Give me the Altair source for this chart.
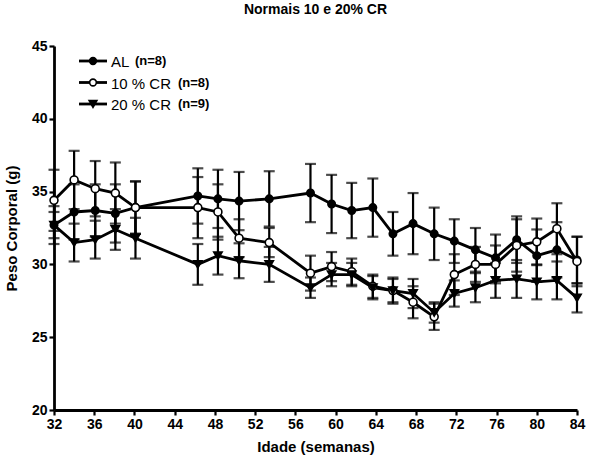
import altair as alt
import pandas as pd

# Age in weeks at each weighing
weeks = [32, 34, 36.1, 38.1, 40.1, 46.3, 48.3, 50.4, 53.4, 57.5, 59.6, 61.6,
         63.7, 65.7, 67.7, 69.8, 71.8, 73.9, 75.9, 78.0, 80.0, 82.0, 84.0]

series_names = ["AL", "10 % CR", "20 % CR"]
series_tags = ["(n=8)", "(n=8)", "(n=9)"]

# Mean body weight (g) and SEM for each group
al_mean = [32.7, 33.6, 33.7, 33.5, 33.9, 34.7, 34.5, 34.35, 34.5, 34.9, 34.15, 33.7,
           33.9, 32.1, 32.8, 32.1, 31.6, 31.0, 30.45, 31.7, 30.6, 31.0, 30.3]
al_sem = [1.3, 1.9, 1.8, 2.0, 1.8, 1.9, 2.0, 2.0, 1.9, 2.0, 2.0, 1.9,
          2.0, 1.5, 2.1, 1.8, 1.5, 1.5, 1.6, 1.6, 1.8, 1.9, 1.6]
cr10_mean = [34.4, 35.8, 35.2, 34.9, 33.9, 33.9, 33.6, 31.8, 31.5, 29.4, 29.85, 29.5,
             28.5, 28.2, 27.4, 26.4, 29.3, 30.0, 30.0, 31.3, 31.55, 32.45, 30.2]
cr10_sem = [2.1, 2.0, 1.9, 2.1, 1.8, 2.1, 1.9, 1.3, 1.0, 1.2, 1.0, 0.9,
            0.8, 0.8, 1.1, 0.9, 1.4, 1.2, 1.3, 1.8, 1.6, 1.75, 1.7]
cr20_mean = [32.7, 31.5, 31.7, 32.4, 31.8, 30.0, 30.6, 30.25, 30.0, 28.4, 29.3, 29.3,
             28.4, 28.2, 28.0, 26.7, 28.0, 28.4, 28.9, 29.0, 28.8, 28.9, 27.7]
cr20_sem = [0.9, 1.3, 1.3, 1.4, 1.4, 1.4, 1.3, 1.2, 1.2, 0.7, 0.8, 0.8,
            0.8, 0.9, 1.0, 0.7, 0.9, 1.0, 1.2, 1.3, 1.2, 1.3, 1.0]

x_ticks = list(range(32, 85, 4))
y_ticks = [20, 25, 30, 35, 40, 45]

FONT = "Liberation Sans, Arial, Helvetica, sans-serif"

rows = []
for name, means, sems in [("AL", al_mean, al_sem),
                          ("10 % CR", cr10_mean, cr10_sem),
                          ("20 % CR", cr20_mean, cr20_sem)]:
    for w, m, s in zip(weeks, means, sems):
        rows.append({"grupo": name, "semana": w, "peso": m,
                     "lo": m - s, "hi": m + s})
df = pd.DataFrame(rows)

caps = pd.concat([
    df[["grupo", "semana"]].assign(cap=df["lo"]),
    df[["grupo", "semana"]].assign(cap=df["hi"]),
])

x_scale = alt.Scale(domain=[32, 84], nice=False, zero=False)
y_scale = alt.Scale(domain=[20, 45], nice=False, zero=False)

x_enc = alt.X("semana:Q", scale=x_scale,
              axis=alt.Axis(values=x_ticks, title="Idade (semanas)", format="d",
                            labelFlush=False, labelOverlap=False))
y_enc = alt.Y("peso:Q", scale=y_scale,
              axis=alt.Axis(values=y_ticks, title="Peso Corporal (g)", format="d",
                            labelFlush=False, labelOverlap=False))

shape_scale = alt.Scale(domain=series_names,
                        range=["circle", "circle", "triangle-down"])
fill_scale = alt.Scale(domain=series_names, range=["black", "white", "black"])
size_scale = alt.Scale(domain=series_names, range=[55, 70, 90])

base = alt.Chart(df)

lines = base.mark_line(color="black", strokeWidth=2.8).encode(
    x=x_enc, y=y_enc, detail="grupo:N", order="semana:Q")

bars = base.mark_rule(color="black", strokeWidth=2.2).encode(
    x="semana:Q", y="lo:Q", y2="hi:Q")

cap_marks = alt.Chart(caps).mark_tick(
    color="black", orient="horizontal", size=11, thickness=2.2).encode(
    x="semana:Q", y="cap:Q")

points = base.mark_point(filled=False, stroke="black", strokeWidth=1.6,
                         opacity=1).encode(
    x="semana:Q", y="peso:Q",
    shape=alt.Shape("grupo:N", scale=shape_scale, legend=None),
    fill=alt.Fill("grupo:N", scale=fill_scale, legend=None),
    size=alt.Size("grupo:N", scale=size_scale, legend=None),
)

# Hand-built legend in the upper-left corner
legend_layers = []
shapes = ["circle", "circle", "triangle-down"]
fills = ["black", "white", "black"]
sizes = [45, 45, 60]
tag_x = [81, 124, 124]
one = pd.DataFrame({"k": [0]})
for i, (name, tag) in enumerate(zip(series_names, series_tags)):
    yy = 15 + i * 21.5
    legend_layers.append(alt.Chart(one).mark_rule(color="black", strokeWidth=2.8).encode(
        x=alt.value(25), x2=alt.value(53), y=alt.value(yy)))
    legend_layers.append(alt.Chart(one).mark_point(
        shape=shapes[i], fill=fills[i], stroke="black", strokeWidth=1.6,
        size=sizes[i], opacity=1, filled=False).encode(
        x=alt.value(39), y=alt.value(yy)))
    legend_layers.append(alt.Chart(one).mark_text(
        text=name, align="left", baseline="middle", font=FONT, fontSize=15,
        color="black").encode(x=alt.value(57), y=alt.value(yy + 1)))
    legend_layers.append(alt.Chart(one).mark_text(
        text=tag, align="left", baseline="middle", font=FONT, fontSize=13,
        fontWeight="bold", color="black").encode(x=alt.value(tag_x[i]), y=alt.value(yy)))

chart = alt.layer(lines, bars, cap_marks, points, *legend_layers).properties(
    width=523, height=364,
    title=alt.TitleParams("Normais 10 e 20% CR", font=FONT, fontSize=14,
                          fontWeight="bold", anchor="middle", offset=22,
                          color="black"),
    autosize=alt.AutoSizeParams(type="none"),
    padding={"left": 54, "top": 46, "right": 19, "bottom": 53},
).configure_view(stroke=None).configure_axis(
    grid=False, domainColor="black", domainWidth=2.8, tickColor="black",
    tickWidth=2.2, tickSize=5, labelFont=FONT, labelFontSize=14,
    labelFontWeight="bold", labelColor="black", titleFont=FONT,
    titleFontSize=15, titleFontWeight="bold", titleColor="black",
    labelPadding=2,
).configure_axisX(titlePadding=8).configure_axisY(titlePadding=12)

chart.save("out.html", embed_options={"renderer": "svg", "actions": False})
